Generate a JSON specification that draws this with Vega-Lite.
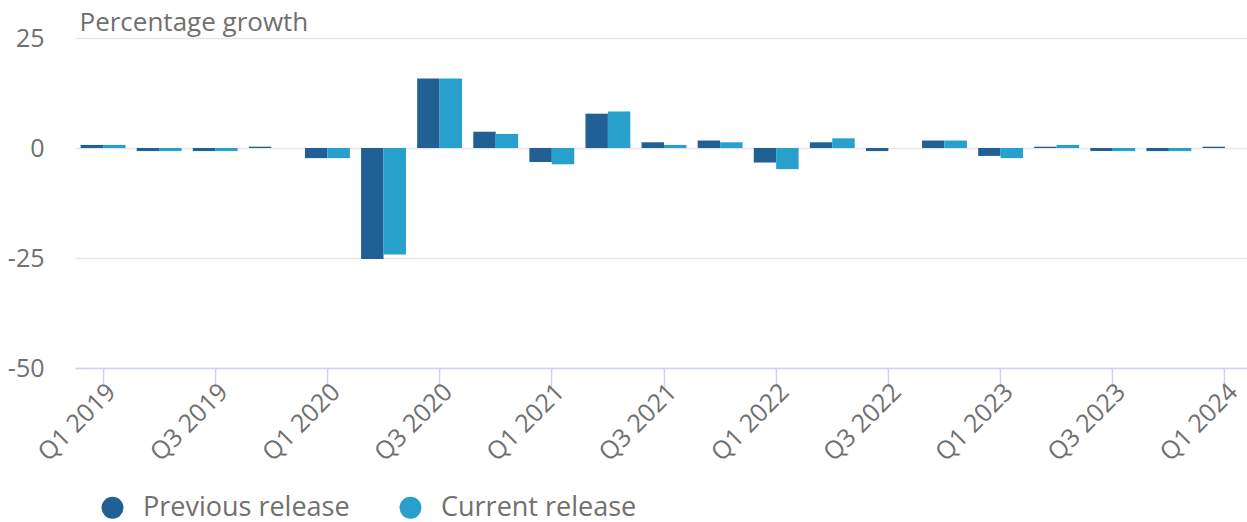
{
  "$schema": "https://vega.github.io/schema/vega-lite/v6.json",
  "width": 1178,
  "height": 330,
  "autosize": {"type": "none"},
  "padding": {"left": 75, "top": 38, "right": 0, "bottom": 154},
  "background": "white",
  "config": {
    "font": "Open Sans",
    "view": {"stroke": null}
  },
  "data": {
    "values": [
      {"quarter": "Q1 2019", "series": "Previous release", "value": 0.7},
      {"quarter": "Q1 2019", "series": "Current release", "value": 0.7},
      {"quarter": "Q2 2019", "series": "Previous release", "value": -0.7},
      {"quarter": "Q2 2019", "series": "Current release", "value": -0.7},
      {"quarter": "Q3 2019", "series": "Previous release", "value": -0.7},
      {"quarter": "Q3 2019", "series": "Current release", "value": -0.7},
      {"quarter": "Q4 2019", "series": "Previous release", "value": 0.3},
      {"quarter": "Q4 2019", "series": "Current release", "value": 0.0},
      {"quarter": "Q1 2020", "series": "Previous release", "value": -2.3},
      {"quarter": "Q1 2020", "series": "Current release", "value": -2.3},
      {"quarter": "Q2 2020", "series": "Previous release", "value": -25.2},
      {"quarter": "Q2 2020", "series": "Current release", "value": -24.2},
      {"quarter": "Q3 2020", "series": "Previous release", "value": 15.8},
      {"quarter": "Q3 2020", "series": "Current release", "value": 15.8},
      {"quarter": "Q4 2020", "series": "Previous release", "value": 3.7},
      {"quarter": "Q4 2020", "series": "Current release", "value": 3.2},
      {"quarter": "Q1 2021", "series": "Previous release", "value": -3.2},
      {"quarter": "Q1 2021", "series": "Current release", "value": -3.7},
      {"quarter": "Q2 2021", "series": "Previous release", "value": 7.8},
      {"quarter": "Q2 2021", "series": "Current release", "value": 8.3},
      {"quarter": "Q3 2021", "series": "Previous release", "value": 1.3},
      {"quarter": "Q3 2021", "series": "Current release", "value": 0.7},
      {"quarter": "Q4 2021", "series": "Previous release", "value": 1.7},
      {"quarter": "Q4 2021", "series": "Current release", "value": 1.3},
      {"quarter": "Q1 2022", "series": "Previous release", "value": -3.3},
      {"quarter": "Q1 2022", "series": "Current release", "value": -4.8},
      {"quarter": "Q2 2022", "series": "Previous release", "value": 1.3},
      {"quarter": "Q2 2022", "series": "Current release", "value": 2.2},
      {"quarter": "Q3 2022", "series": "Previous release", "value": -0.7},
      {"quarter": "Q3 2022", "series": "Current release", "value": 0.0},
      {"quarter": "Q4 2022", "series": "Previous release", "value": 1.7},
      {"quarter": "Q4 2022", "series": "Current release", "value": 1.7},
      {"quarter": "Q1 2023", "series": "Previous release", "value": -1.8},
      {"quarter": "Q1 2023", "series": "Current release", "value": -2.3},
      {"quarter": "Q2 2023", "series": "Previous release", "value": 0.3},
      {"quarter": "Q2 2023", "series": "Current release", "value": 0.7},
      {"quarter": "Q3 2023", "series": "Previous release", "value": -0.7},
      {"quarter": "Q3 2023", "series": "Current release", "value": -0.7},
      {"quarter": "Q4 2023", "series": "Previous release", "value": -0.7},
      {"quarter": "Q4 2023", "series": "Current release", "value": -0.7},
      {"quarter": "Q1 2024", "series": "Previous release", "value": 0.3}
    ]
  },
  "mark": {"type": "bar"},
  "encoding": {
    "x": {
      "field": "quarter",
      "type": "ordinal",
      "sort": null,
      "scale": {"paddingInner": 0.2, "paddingOuter": 0.1},
      "axis": {
        "title": null,
        "values": ["Q1 2019", "Q3 2019", "Q1 2020", "Q3 2020", "Q1 2021", "Q3 2021", "Q1 2022", "Q3 2022", "Q1 2023", "Q3 2023", "Q1 2024"],
        "labelAngle": -45,
        "labelFontSize": 25,
        "labelColor": "#707071",
        "labelPadding": -8,
        "tickSize": 19,
        "tickColor": "#ccd6eb",
        "tickWidth": 1.5,
        "domainColor": "#ccd6eb",
        "domainWidth": 1.5,
        "grid": false
      }
    },
    "xOffset": {
      "field": "series",
      "type": "nominal",
      "sort": ["Previous release", "Current release"],
      "scale": {"domain": ["Previous release", "Current release"], "paddingInner": 0, "paddingOuter": 0}
    },
    "y": {
      "field": "value",
      "type": "quantitative",
      "scale": {"domain": [-50, 25], "nice": false},
      "axis": {
        "title": "Percentage growth",
        "titleAngle": 0,
        "titleAlign": "left",
        "titleBaseline": "alphabetic",
        "titleX": 4,
        "titleY": -8,
        "titleFontSize": 26,
        "titleFontWeight": "normal",
        "titleColor": "#707071",
        "values": [-50, -25, 0, 25],
        "labelExpr": "replace(datum.label, '\u2212', '-')",
        "domain": false,
        "ticks": false,
        "labelPadding": 31,
        "labelFontSize": 25,
        "labelColor": "#707071",
        "gridColor": "#e6e6e6",
        "gridWidth": 1.5
      }
    },
    "color": {
      "field": "series",
      "type": "nominal",
      "scale": {"domain": ["Previous release", "Current release"], "range": ["#206095", "#27a0cc"]},
      "legend": {
        "title": null,
        "orient": "none",
        "direction": "horizontal",
        "legendX": 24,
        "legendY": 456,
        "symbolType": "circle",
        "symbolSize": 480,
        "symbolStrokeWidth": 0,
        "labelFontSize": 27,
        "labelColor": "#707071",
        "labelOffset": 17,
        "labelLimit": 400,
        "columnPadding": 47
      }
    }
  }
}
